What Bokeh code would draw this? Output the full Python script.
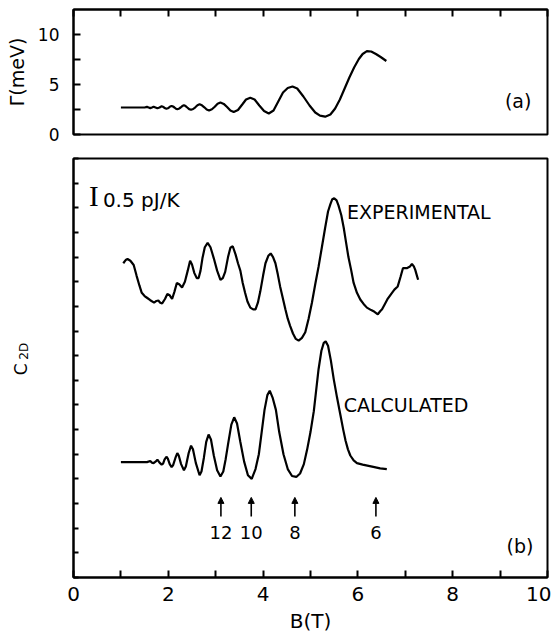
from bokeh.plotting import figure
from bokeh.layouts import column, row
from bokeh.models import (Range1d, FixedTicker, Label, Arrow, NormalHead,
                          ColumnDataSource, CustomJSTickFormatter)
from bokeh.core.properties import value
from bokeh.embed import file_html
from bokeh.resources import INLINE
import math

# ---------------- data ----------------
gamma_B = [1.00, 1.50, 1.55, 1.585, 1.62, 1.655, 1.69, 1.73, 1.77, 1.815,
           1.86, 1.885, 1.91, 1.935, 1.96, 1.99, 2.015, 2.04, 2.07, 2.10,
           2.13, 2.16, 2.19, 2.225, 2.26, 2.295, 2.33, 2.365, 2.40, 2.44,
           2.48, 2.525, 2.57, 2.615, 2.66, 2.71, 2.76, 2.81, 2.86, 2.92,
           2.98, 3.04, 3.10, 3.17, 3.24, 3.31, 3.38, 3.47, 3.56, 3.64, 3.73,
           3.82, 3.92, 4.02, 4.12, 4.22, 4.32, 4.42, 4.52, 4.62, 4.72, 4.85,
           4.98, 5.10, 5.20, 5.31, 5.42, 5.52, 5.62, 5.72, 5.82, 5.92, 6.02,
           6.10, 6.19, 6.28, 6.38, 6.48, 6.60]
gamma_meV = [2.70, 2.70, 2.76, 2.70, 2.64, 2.70, 2.78, 2.70, 2.62, 2.70,
             2.82, 2.78, 2.70, 2.62, 2.58, 2.62, 2.70, 2.80, 2.86, 2.80,
             2.70, 2.58, 2.54, 2.58, 2.70, 2.84, 2.92, 2.84, 2.70, 2.54,
             2.48, 2.55, 2.72, 2.92, 3.02, 2.92, 2.72, 2.50, 2.40, 2.52,
             2.78, 3.08, 3.20, 3.06, 2.75, 2.40, 2.25, 2.45, 3.00, 3.50, 3.68,
             3.50, 2.90, 2.35, 2.10, 2.40, 3.30, 4.20, 4.65, 4.80, 4.60, 3.80,
             2.90, 2.20, 1.88, 1.78, 2.00, 2.60, 3.50, 4.60, 5.70, 6.70, 7.55,
             8.05, 8.33, 8.30, 8.05, 7.75, 7.35]

exp_B = [1.05, 1.10, 1.14, 1.20, 1.27, 1.33, 1.39, 1.44, 1.50, 1.55, 1.62,
         1.70, 1.75, 1.79, 1.83, 1.87, 1.93, 1.98, 2.03, 2.08, 2.13, 2.18,
         2.23, 2.29, 2.35, 2.41, 2.46, 2.50, 2.55, 2.60, 2.64, 2.68, 2.72,
         2.77, 2.83, 2.89, 2.96, 3.03, 3.10, 3.15, 3.20, 3.26, 3.31, 3.36,
         3.42, 3.47, 3.52, 3.57, 3.62, 3.67, 3.73, 3.79, 3.84, 3.89, 3.94,
         4.00, 4.05, 4.11, 4.16, 4.21, 4.26, 4.31, 4.36, 4.42, 4.47, 4.52,
         4.57, 4.63, 4.69, 4.75, 4.82, 4.89, 4.96, 5.03, 5.10, 5.17, 5.24,
         5.31, 5.37, 5.42, 5.46, 5.50, 5.55, 5.59, 5.65, 5.70, 5.75, 5.80,
         5.86, 5.91, 5.98, 6.05, 6.12, 6.19, 6.28, 6.35, 6.42, 6.47, 6.51,
         6.57, 6.62, 6.70, 6.77, 6.84, 6.90, 6.95, 7.03, 7.10, 7.14, 7.18,
         7.21, 7.24, 7.27]
exp_C = [12.75, 12.88, 12.92, 12.85, 12.68, 12.25, 11.85, 11.55, 11.42, 11.35,
         11.25, 11.15, 11.22, 11.24, 11.15, 11.12, 11.30, 11.50, 11.45, 11.30,
         11.60, 11.95, 11.90, 11.77, 12.00, 12.45, 12.85, 12.70, 12.35, 12.15,
         12.15, 12.45, 12.95, 13.40, 13.58, 13.40, 12.95, 12.45, 12.08, 12.15,
         12.40, 13.00, 13.38, 13.44, 13.10, 12.75, 12.45, 11.95, 11.55, 11.20,
         10.95, 10.88, 10.88, 11.15, 11.60, 12.25, 12.75, 13.05, 13.15, 13.00,
         12.75, 12.30, 11.80, 11.30, 10.88, 10.50, 10.21, 9.90, 9.68, 9.61,
         9.72, 9.95, 10.50, 11.15, 11.90, 12.61, 13.40, 14.20, 14.85, 15.15,
         15.35, 15.39, 15.30, 15.10, 14.70, 14.20, 13.60, 13.00, 12.45, 11.95,
         11.55, 11.28, 11.10, 10.95, 10.85, 10.78, 10.68, 10.80, 10.88, 11.10,
         11.28, 11.50, 11.68, 11.81, 12.20, 12.55, 12.55, 12.62, 12.72, 12.62,
         12.48, 12.28, 12.08]

calc_B = [1.00, 1.55, 1.62, 1.655, 1.69, 1.73, 1.77, 1.815, 1.86, 1.89, 1.92,
          1.96, 1.99, 2.03, 2.07, 2.10, 2.15, 2.19, 2.22, 2.27, 2.33, 2.37,
          2.43, 2.48, 2.52, 2.58, 2.66, 2.70, 2.75, 2.80, 2.85, 2.90, 2.96,
          3.03, 3.10, 3.16, 3.21, 3.26, 3.33, 3.39, 3.45, 3.52, 3.60, 3.68,
          3.76, 3.84, 3.91, 3.97, 4.03, 4.09, 4.14, 4.20, 4.27, 4.34, 4.43,
          4.52, 4.61, 4.70, 4.78, 4.86, 4.93, 5.00, 5.07, 5.12, 5.17, 5.23,
          5.28, 5.32, 5.37, 5.43, 5.49, 5.56, 5.63, 5.69, 5.74, 5.79, 5.84,
          5.91, 5.98, 6.10, 6.30, 6.47, 6.61]
calc_C = [4.68, 4.68, 4.73, 4.66, 4.64, 4.70, 4.78, 4.66, 4.58, 4.62, 4.78,
          4.90, 4.82, 4.60, 4.48, 4.55, 4.85, 5.05, 4.95, 4.60, 4.35, 4.50,
          5.05, 5.35, 5.20, 4.65, 4.15, 4.30, 4.85, 5.50, 5.80, 5.60, 4.95,
          4.35, 4.10, 4.30, 4.80, 5.40, 6.20, 6.50, 6.25, 5.50, 4.70, 4.15,
          4.00, 4.40, 5.00, 5.90, 6.80, 7.40, 7.58, 7.30, 6.80, 5.90, 5.00,
          4.40, 4.12, 4.08, 4.22, 4.60, 5.20, 5.90, 6.75, 7.60, 8.45, 9.20,
          9.52, 9.58, 9.40, 8.80, 8.05, 7.30, 6.60, 6.00, 5.55, 5.20, 4.95,
          4.75, 4.64, 4.58, 4.50, 4.43, 4.40]

arrow_B = [3.11, 3.75, 4.67, 6.38]
arrow_labels = ["12", "10", "8", "6"]

x_ticks_major = [0, 2, 4, 6, 8, 10]
x_ticks_minor = [1, 3, 5, 7, 9]
top_ticks = list(range(0, 11))
gamma_ticks = [0, 5, 10]
gamma_minor = [2.5, 7.5]
c_ticks = list(range(0, 18))

FONT = "DejaVu Sans"
LW = 2.2
BLANK = CustomJSTickFormatter(code="return ''")

xr = Range1d(0, 10)

# ---------------- panel (a) ----------------
pa = figure(width=551, height=146, x_range=xr, y_range=Range1d(0, 12.5),
            output_backend="svg", toolbar_location=None,
            x_axis_location="above",
            min_border_left=73, min_border_right=4,
            min_border_top=9, min_border_bottom=12)
pa.line(gamma_B, gamma_meV, line_color="black", line_width=LW)
pa.grid.visible = False
pa.outline_line_color = "black"
pa.outline_line_width = 2
pa.background_fill_color = "white"
pa.border_fill_color = "white"

ax = pa.xaxis[0]
ax.ticker = FixedTicker(ticks=top_ticks)
ax.formatter = BLANK
ax.major_tick_in = 7
ax.major_tick_out = 0
ax.major_tick_line_width = 2
ax.major_label_standoff = 0
ax.axis_line_width = 2

ay = pa.yaxis[0]
ay.ticker = FixedTicker(ticks=gamma_ticks, minor_ticks=gamma_minor)
ay.major_tick_in = 7
ay.major_tick_out = 0
ay.minor_tick_in = 7
ay.minor_tick_out = 0
ay.major_tick_line_width = 2
ay.minor_tick_line_width = 2
ay.axis_line_width = 2
ay.major_label_text_font = FONT
ay.major_label_text_font_size = "17px"
ay.major_label_text_color = "black"
ay.major_label_standoff = 14
ay.axis_label = "Γ(meV)"
ay.axis_label_text_font = FONT
ay.axis_label_text_font_size = "19px"
ay.axis_label_text_font_style = "normal"
ay.axis_label_text_color = "black"
ay.axis_label_standoff = 7

pa.add_layout(Label(x=9.38, y=3.4, text="(a)", text_font=FONT,
                    text_font_size="19px", text_align="center",
                    text_baseline="middle", text_color="black"))

# ---------------- side strip carrying the C_2D label ----------------
side = figure(width=60, height=489, x_range=Range1d(0, 60),
              y_range=Range1d(0, 489), output_backend="svg",
              toolbar_location=None, x_axis_location=None,
              y_axis_location=None, min_border=0)
side.grid.visible = False
side.outline_line_color = None
side.border_fill_color = "white"
side.background_fill_color = "white"
side.add_layout(Label(x=20, y=243, text="C", text_font=FONT,
                      text_font_size="17px", angle=math.pi / 2,
                      angle_units="rad",
                      text_align="center", text_baseline="middle",
                      text_color="black"))
side.add_layout(Label(x=23, y=264, text="2D", text_font=FONT,
                      text_font_size="12px", angle=math.pi / 2,
                      angle_units="rad",
                      text_align="center", text_baseline="middle",
                      text_color="black"))

# ---------------- panel (b) ----------------
pb = figure(width=491, height=489, x_range=xr, y_range=Range1d(0, 17),
            output_backend="svg", toolbar_location=None,
            min_border_left=13, min_border_right=4,
            min_border_top=12, min_border_bottom=53)
pb.line(exp_B, exp_C, line_color="black", line_width=LW)
pb.line(calc_B, calc_C, line_color="black", line_width=LW)
pb.grid.visible = False
pb.outline_line_color = "black"
pb.outline_line_width = 2
pb.background_fill_color = "white"
pb.border_fill_color = "white"

bx = pb.xaxis[0]
bx.ticker = FixedTicker(ticks=x_ticks_major, minor_ticks=x_ticks_minor)
bx.major_tick_in = 7
bx.major_tick_out = 0
bx.minor_tick_in = 7
bx.minor_tick_out = 0
bx.major_tick_line_width = 2
bx.minor_tick_line_width = 2
bx.axis_line_width = 2
bx.major_label_text_font = FONT
bx.major_label_text_font_size = "20px"
bx.major_label_text_color = "black"
bx.major_label_standoff = 9
bx.axis_label = "B(T)"
bx.axis_label_text_font = FONT
bx.axis_label_text_font_size = "20px"
bx.axis_label_text_font_style = "normal"
bx.axis_label_text_color = "black"
bx.axis_label_standoff = 5

by = pb.yaxis[0]
by.ticker = FixedTicker(ticks=c_ticks)
by.formatter = BLANK
by.major_tick_in = 5
by.major_tick_out = 0
by.major_tick_line_width = 2
by.axis_line_width = 2
by.major_label_standoff = 0

# scale bar
pb.add_layout(Label(x=0.43, y=15.48, text="I", text_font="Liberation Serif",
                    text_font_size="29px", text_align="center",
                    text_baseline="middle", text_color="black"))
pb.add_layout(Label(x=0.62, y=15.3, text="0.5 pJ/K", text_font=FONT,
                    text_font_size="20px", text_align="left",
                    text_baseline="middle", text_color="black"))

pb.add_layout(Label(x=5.77, y=14.81, text="EXPERIMENTAL", text_font=FONT,
                    text_font_size="19px", text_align="left",
                    text_baseline="middle", text_color="black"))
pb.add_layout(Label(x=5.70, y=7.01, text="CALCULATED", text_font=FONT,
                    text_font_size="19px", text_align="left",
                    text_baseline="middle", text_color="black"))
pb.add_layout(Label(x=9.42, y=1.28, text="(b)", text_font=FONT,
                    text_font_size="19px", text_align="center",
                    text_baseline="middle", text_color="black"))

# filling-factor arrows
asrc = ColumnDataSource(dict(x=arrow_B, y0=[2.48] * len(arrow_B),
                             y1=[3.25] * len(arrow_B)))
pb.add_layout(Arrow(end=NormalHead(size=6, fill_color="black",
                                   line_color="black"),
                    x_start="x", y_start="y0", x_end="x", y_end="y1",
                    source=asrc, line_width=1.6, line_color="black"))
pb.text(x=arrow_B, y=[1.82] * len(arrow_B), text=arrow_labels,
        text_font=value(FONT), text_font_size="18px", text_align="center",
        text_baseline="middle", text_color="black")

layout = column(pa, row(side, pb, spacing=0), spacing=0)
open("out.html", "w").write(file_html(layout, INLINE))
